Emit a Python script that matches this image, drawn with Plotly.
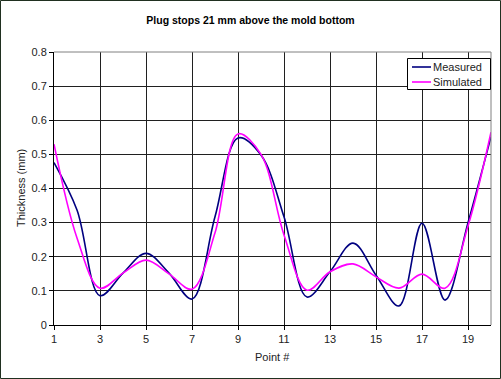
import plotly.graph_objects as go

points = list(range(1, 21))
measured = [0.476, 0.337, 0.086, 0.152, 0.21, 0.152, 0.076, 0.317, 0.548, 0.498,
            0.317, 0.082, 0.156, 0.24, 0.146, 0.056, 0.298, 0.073, 0.30, 0.552]
simulated = [0.53, 0.255, 0.108, 0.152, 0.19, 0.15, 0.105, 0.27, 0.56, 0.50,
             0.264, 0.102, 0.156, 0.179, 0.141, 0.108, 0.149, 0.108, 0.29, 0.565]
x_ticks = [1, 3, 5, 7, 9, 11, 13, 15, 17, 19]
y_ticks = [0, 0.1, 0.2, 0.3, 0.4, 0.5, 0.6, 0.7, 0.8]
series_names = ["Measured", "Simulated"]
series_colors = ["#000080", "#FF00FF"]

font = "Liberation Sans, Arial, sans-serif"

fig = go.Figure()
for name, vals, col in zip(series_names, [measured, simulated], series_colors):
    fig.add_trace(go.Scatter(x=points, y=vals, name=name, mode="lines", cliponaxis=False,
                             hoverinfo="skip",
                             line=dict(color=col, width=1.6, shape="spline", smoothing=1.0)))

L, R, T, B = 54, 10, 52, 54
W, H = 501, 379
pw, ph = W - L - R, H - T - B

def px(xp):
    return (xp - L) / pw

def py(yp):
    return 1 - (yp - T) / ph

fig.update_layout(
    width=W, height=H,
    margin=dict(l=L, r=R, t=T, b=B, pad=0, autoexpand=False),
    paper_bgcolor="white", plot_bgcolor="white",
    font=dict(family=font, size=11, color="#222"),
    title=dict(text="<b>Plug stops 21 mm above the mold bottom</b>",
               x=0.5, xanchor="center", y=1 - 20 / H, yanchor="middle",
               font=dict(family=font, size=10.5, color="black")),
    showlegend=False,
    xaxis=dict(range=[1, 20], tickvals=x_ticks, ticktext=[str(v) for v in x_ticks],
               showgrid=True, gridcolor="#202020", gridwidth=1,
               showline=True, linecolor="black", linewidth=1,
               ticks="outside", ticklen=4, tickcolor="black",
               zeroline=False, fixedrange=True, automargin=False),
    yaxis=dict(range=[0, 0.8], tickvals=y_ticks, ticktext=["0"] + [f"{v:.1f}" for v in y_ticks[1:]],
               showgrid=True, gridcolor="#202020", gridwidth=1,
               showline=True, linecolor="black", linewidth=1,
               ticks="outside", ticklen=4, tickcolor="black",
               zeroline=False, fixedrange=True, automargin=False),
)

# axis titles
fig.add_annotation(xref="paper", yref="paper", x=px(272), y=py(357), text="Point #",
                   showarrow=False, xanchor="center", yanchor="middle",
                   font=dict(family=font, size=11, color="#222"))
fig.add_annotation(xref="paper", yref="paper", x=px(21), y=py(188), text="Thickness (mm)",
                   showarrow=False, xanchor="center", yanchor="middle", textangle=-90,
                   font=dict(family=font, size=11, color="#222"))

# plot area top/right border (gray) and outer chart border
fig.add_shape(type="line", xref="paper", yref="paper", x0=0, x1=1, y0=1, y1=1,
              line=dict(color="#808080", width=1))
fig.add_shape(type="line", xref="paper", yref="paper", x0=1, x1=1, y0=0, y1=1,
              line=dict(color="#808080", width=1))
fig.add_shape(type="rect", xref="paper", yref="paper",
              x0=px(0.5), x1=px(W - 0.5), y0=py(H - 0.5), y1=py(0.5),
              line=dict(color="#203020", width=1), layer="above")

# legend box (drawn to match the compact Excel legend)
fig.add_shape(type="rect", xref="paper", yref="paper",
              x0=px(407.5), x1=px(490.5), y0=py(89.5), y1=py(58.5),
              fillcolor="white", line=dict(color="black", width=1), layer="above")
for i, (name, col) in enumerate(zip(series_names, series_colors)):
    yc = 67 + i * 15
    fig.add_shape(type="line", xref="paper", yref="paper",
                  x0=px(412), x1=px(431), y0=py(yc), y1=py(yc),
                  line=dict(color=col, width=1.6), layer="above")
    fig.add_annotation(xref="paper", yref="paper", x=px(431), y=py(yc), text=name,
                       showarrow=False, xanchor="left", yanchor="middle",
                       font=dict(family=font, size=11, color="#222"))

fig.write_html("out.html", config={"displayModeBar": False, "staticPlot": True},
               post_script="document.body.style.margin='0';document.body.style.overflow='hidden';")
